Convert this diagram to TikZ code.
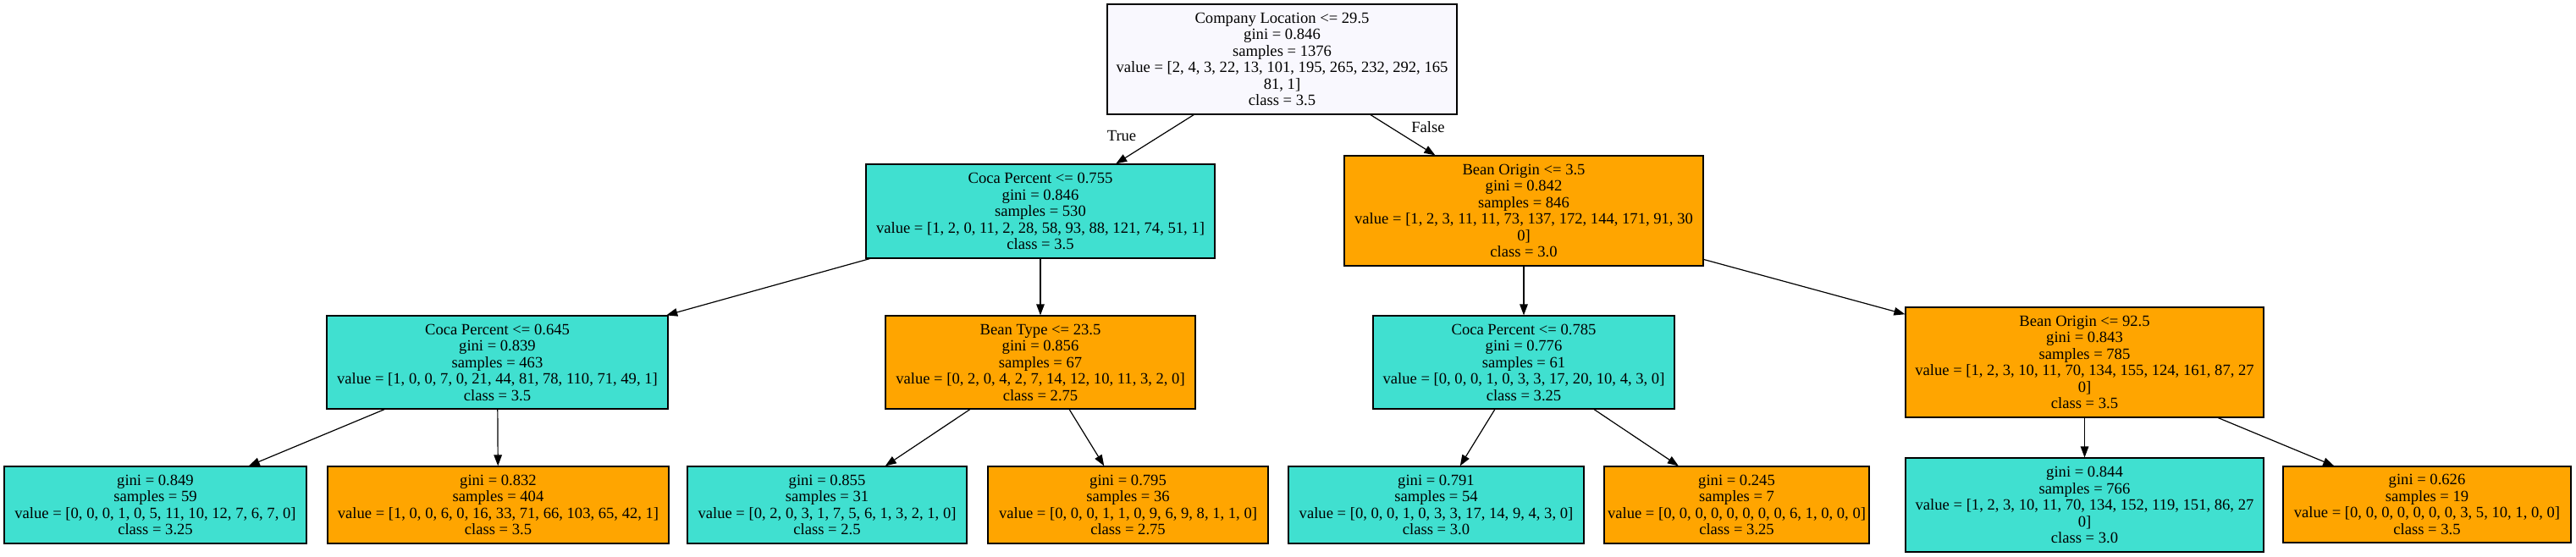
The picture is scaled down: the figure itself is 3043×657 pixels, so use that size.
\documentclass[tikz,border=0pt]{standalone}
\usepackage{fontspec}
\setmainfont{Liberation Serif}
\usetikzlibrary{arrows.meta}
\definecolor{rootfill}{HTML}{F9F8FE}
\definecolor{turq}{HTML}{40E0D0}
\definecolor{orng}{HTML}{FFA500}
\tikzset{
  box/.style={draw=black, line width=1.2pt, inner sep=0pt, align=center,
    font=\fontsize{18.6}{19.5}\selectfont},
  tq/.style={box, fill=turq},
  og/.style={box, fill=orng},
  edge/.style={line width=1.2pt, -{Triangle[length=13pt,width=9.5pt]}},
  elabel/.style={font=\fontsize{18.6}{19.5}\selectfont, inner sep=0pt}
}
\begin{document}
\begin{tikzpicture}[x=1pt,y=-1pt]
\useasboundingbox (0,0) rectangle (3043,657);
% root
\node[box, fill=rootfill, minimum width=413pt, minimum height=130pt] (root) at (1514.5,70)
  {Company Location <= 29.5\\gini = 0.846\\samples = 1376\\value = [2, 4, 3, 22, 13, 101, 195, 265, 232, 292, 165\\81, 1]\\class = 3.5};
% level 2
\node[tq, minimum width=412pt, minimum height=111pt] (c755) at (1229,249.5)
  {Coca Percent <= 0.755\\gini = 0.846\\samples = 530\\value = [1, 2, 0, 11, 2, 28, 58, 93, 88, 121, 74, 51, 1]\\class = 3.5};
\node[og, minimum width=424pt, minimum height=130pt] (b35) at (1800,249)
  {Bean Origin <= 3.5\\gini = 0.842\\samples = 846\\value = [1, 2, 3, 11, 11, 73, 137, 172, 144, 171, 91, 30\\0]\\class = 3.0};
% level 3
\node[tq, minimum width=403pt, minimum height=110pt] (c645) at (587.5,428)
  {Coca Percent <= 0.645\\gini = 0.839\\samples = 463\\value = [1, 0, 0, 7, 0, 21, 44, 81, 78, 110, 71, 49, 1]\\class = 3.5};
\node[og, minimum width=366pt, minimum height=110pt] (bt) at (1229,428)
  {Bean Type <= 23.5\\gini = 0.856\\samples = 67\\value = [0, 2, 0, 4, 2, 7, 14, 12, 10, 11, 3, 2, 0]\\class = 2.75};
\node[tq, minimum width=356pt, minimum height=110pt] (c785) at (1800,428)
  {Coca Percent <= 0.785\\gini = 0.776\\samples = 61\\value = [0, 0, 0, 1, 0, 3, 3, 17, 20, 10, 4, 3, 0]\\class = 3.25};
\node[og, minimum width=423pt, minimum height=130pt] (b925) at (2462.5,428)
  {Bean Origin <= 92.5\\gini = 0.843\\samples = 785\\value = [1, 2, 3, 10, 11, 70, 134, 155, 124, 161, 87, 27\\0]\\class = 3.5};
% leaves
\node[tq, minimum width=357pt, minimum height=91pt] (l1) at (183.5,596.5)
  {gini = 0.849\\samples = 59\\value = [0, 0, 0, 1, 0, 5, 11, 10, 12, 7, 6, 7, 0]\\class = 3.25};
\node[og, minimum width=403pt, minimum height=91pt] (l2) at (588.5,596.5)
  {gini = 0.832\\samples = 404\\value = [1, 0, 0, 6, 0, 16, 33, 71, 66, 103, 65, 42, 1]\\class = 3.5};
\node[tq, minimum width=330pt, minimum height=91pt] (l3) at (977,596.5)
  {gini = 0.855\\samples = 31\\value = [0, 2, 0, 3, 1, 7, 5, 6, 1, 3, 2, 1, 0]\\class = 2.5};
\node[og, minimum width=331pt, minimum height=91pt] (l4) at (1332.5,596.5)
  {gini = 0.795\\samples = 36\\value = [0, 0, 0, 1, 1, 0, 9, 6, 9, 8, 1, 1, 0]\\class = 2.75};
\node[tq, minimum width=349pt, minimum height=91pt] (l5) at (1696.5,596.5)
  {gini = 0.791\\samples = 54\\value = [0, 0, 0, 1, 0, 3, 3, 17, 14, 9, 4, 3, 0]\\class = 3.0};
\node[og, minimum width=313pt, minimum height=91pt] (l6) at (2051.5,596.5)
  {gini = 0.245\\samples = 7\\value = [0, 0, 0, 0, 0, 0, 0, 0, 6, 1, 0, 0, 0]\\class = 3.25};
\node[tq, minimum width=423pt, minimum height=111pt] (l7) at (2462.5,596.5)
  {gini = 0.844\\samples = 766\\value = [1, 2, 3, 10, 11, 70, 134, 152, 119, 151, 86, 27\\0]\\class = 3.0};
\node[og, minimum width=340pt, minimum height=90pt] (l8) at (2867,596)
  {gini = 0.626\\samples = 19\\value = [0, 0, 0, 0, 0, 0, 0, 3, 5, 10, 1, 0, 0]\\class = 3.5};
% edges
\draw[edge] (root) -- (c755);
\draw[edge] (root) -- (b35);
\draw[edge] (c755) -- (c645);
\draw[edge] (c755) -- (bt);
\draw[edge] (b35) -- (c785);
\draw[edge] (b35) -- (b925);
\draw[edge] (c645) -- (l1);
\draw[edge] (c645) -- (l2);
\draw[edge] (bt) -- (l3);
\draw[edge] (bt) -- (l4);
\draw[edge] (c785) -- (l5);
\draw[edge] (c785) -- (l6);
\draw[edge] (b925) -- (l7);
\draw[edge] (b925) -- (l8);
% edge labels
\node[elabel] (ltrue) at (1325,160) {True};
\node[elabel] (lfalse) at (1687,150) {False};
\end{tikzpicture}
\end{document}
